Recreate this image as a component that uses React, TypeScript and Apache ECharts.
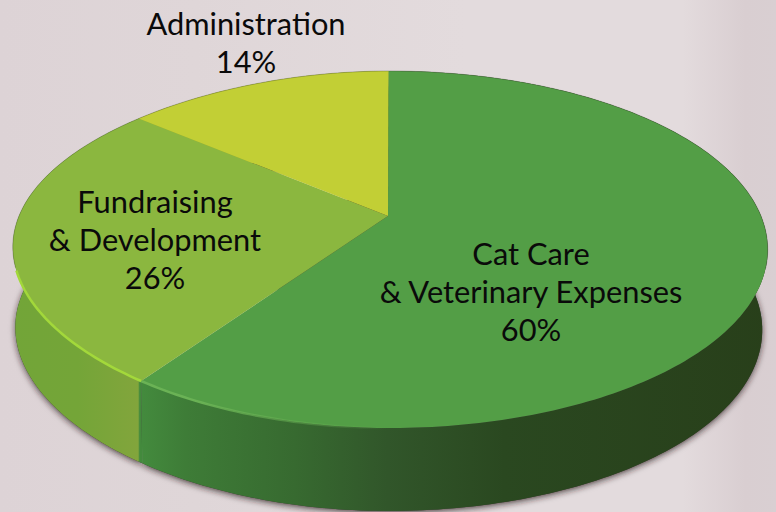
import React, { useEffect, useRef } from "react";
import * as echarts from "echarts";

const LABELS = ["Cat Care\n& Veterinary Expenses", "Fundraising\n& Development", "Administration"];
const VALUES = [60, 26, 14];
const TOP_COLORS = ["#539e46", "#8bb73f", "#c2cf35"];
const LABEL_ANCHORS = [[531, 291], [155, 239], [246, 42]];
const SIDE_STOPS = [
  [[0, "#438a3d"], [0.185, "#438a3d"], [0.24, "#3e7c37"], [0.38, "#376a30"], [0.5, "#31562a"], [0.65, "#2a4820"], [1, "#283f1a"]],
  [[0, "#72a538"], [0.1, "#74a538"], [0.178, "#82a53c"], [0.18, "#438a3d"], [1, "#438a3d"]],
  [[0, "#9aa82e"], [1, "#9aa82e"]],
];
const RIM_STOPS = [
  [[0, "#6db456"], [0.25, "#6ab255"], [0.5, "rgba(100,175,80,0)"], [1, "rgba(100,175,80,0)"]],
  [[0, "#a2d83a"], [1, "#a8dc3c"]],
  [[0, "#c2cf35"], [1, "#c2cf35"]],
];

const TILT = 0.1877;
const SCALE_X = 371;
const SCALE_Y = 172.2;
const RIM_CX = 390;
const LEFT_PINCH = 17;
const APEX = [388, 216];
const TOP_CY = 249.5;
const BASE_CX = 388.5;
const BASE_CY = 330;
const START = -0.3;

const total = VALUES.reduce((a, b) => a + b, 0);
const rad = (d: number) => (d * Math.PI) / 180;

function topPoint(deg: number) {
  const u = Math.sin(rad(deg));
  const v = -Math.cos(rad(deg));
  const w = 1 - TILT * v;
  const pinch = u < 0 ? -LEFT_PINCH * u * v * v : 0;
  return [RIM_CX + (SCALE_X * u) / w + pinch, APEX[1] + (SCALE_Y * v) / w];
}
function basePoint(deg: number) {
  const [x, y] = topPoint(deg);
  return [BASE_CX + ((x - RIM_CX) * 374) / 378, BASE_CY + ((y - TOP_CY) * 181) / 178.5];
}
function range(index: number) {
  const before = VALUES.slice(0, index).reduce((a, b) => a + b, 0);
  const a0 = START + (before / total) * 360;
  return [a0, a0 + (VALUES[index] / total) * 360];
}
function arc(index: number, fn: (d: number) => number[]) {
  const [a0, a1] = range(index);
  const n = Math.max(2, Math.ceil(a1 - a0));
  const pts: number[][] = [];
  for (let i = 0; i <= n; i++) pts.push(fn(a0 + ((a1 - a0) * i) / n));
  return pts;
}
const gradient = (stops: any[]) => ({
  type: "linear",
  x: 0,
  y: 0,
  x2: 776,
  y2: 0,
  global: true,
  colorStops: stops.map(([offset, color]: any) => ({ offset, color })),
});
const seriesData = VALUES.map((value, i) => ({ value, name: LABELS[i] }));

export default function App() {
  const ref = useRef<HTMLDivElement>(null);
  useEffect(() => {
    document.body.style.margin = "0";
    const chart = echarts.init(ref.current!, undefined, { renderer: "svg" });
    const base = { type: "custom", coordinateSystem: "none", silent: true, data: seriesData };
    chart.setOption({
      animation: false,
      backgroundColor: {
        type: "linear",
        x: 0,
        y: 0,
        x2: 1,
        y2: 0,
        colorStops: [
          { offset: 0, color: "#ddd3d6" },
          { offset: 0.25, color: "#dfd6d8" },
          { offset: 0.6, color: "#e3dbdd" },
          { offset: 0.88, color: "#e3dbdd" },
          { offset: 0.96, color: "#d9ced1" },
          { offset: 1, color: "#d9cfd2" },
        ],
      },
      series: [
        {
          ...base,
          z: 1,
          renderItem: (p: any) => ({
            type: "polygon",
            shape: { points: arc(p.dataIndex, basePoint) },
            style: { fill: "#3a3634", shadowBlur: 6, shadowOffsetY: 2, shadowColor: "rgba(40,30,30,0.75)" },
          }),
        },
        {
          ...base,
          z: 2,
          renderItem: (p: any) => ({
            type: "polygon",
            shape: { points: [...arc(p.dataIndex, topPoint), ...arc(p.dataIndex, basePoint).reverse()] },
            style: { fill: gradient(SIDE_STOPS[p.dataIndex]) },
          }),
        },
        {
          ...base,
          z: 3,
          renderItem: (p: any) => {
            const i = p.dataIndex;
            const rim = arc(i, topPoint);
            const front = rim.filter((q) => q[1] >= TOP_CY + 20);
            const back = rim.filter((q) => q[1] < TOP_CY + 20);
            const children: any[] = [
              { type: "polygon", shape: { points: [APEX, ...rim] }, style: { fill: TOP_COLORS[i] } },
            ];
            if (back.length > 1)
              children.push({
                type: "polyline",
                shape: { points: back },
                style: { fill: "none", stroke: "rgba(50,60,40,0.3)", lineWidth: 1 },
              });
            if (front.length > 1)
              children.push({
                type: "polyline",
                shape: { points: front },
                style: { fill: "none", stroke: gradient(RIM_STOPS[i]), lineWidth: 2.5 },
              });
            return { type: "group", children };
          },
        },
        {
          ...base,
          z: 4,
          renderItem: (p: any, api: any) => {
            const i = p.dataIndex;
            return {
              type: "text",
              style: {
                text: `${LABELS[i]}\n${api.value(0)}%`,
                x: LABEL_ANCHORS[i][0],
                y: LABEL_ANCHORS[i][1],
                fill: "#0a0a0a",
                font: '30.8px Lato, "Noto Sans", sans-serif',
                lineHeight: 38,
                align: "center",
                verticalAlign: "middle",
              },
            };
          },
        },
      ],
    });
    return () => chart.dispose();
  }, []);
  return <div ref={ref} style={{ width: 776, height: 512 }} />;
}
